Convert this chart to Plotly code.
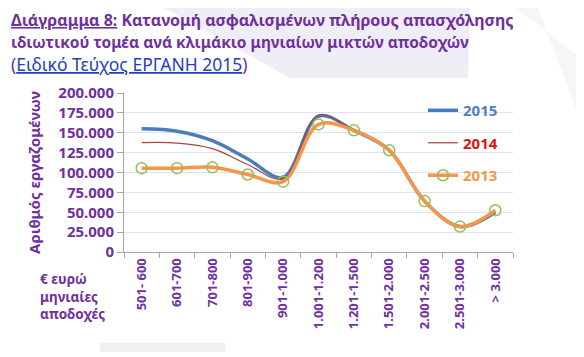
import plotly.graph_objects as go

categories = ["501- 600", "601-700", "701-800", "801-900", "901-1.000", "1.001-1.200",
              "1.201-1.500", "1.501-2.000", "2.001-2.500", "2.501-3.000", "> 3.000"]
v2015 = [155000, 152000, 140000, 117000, 94000, 171000, 153000, 128000, 64000, 32000, 50000]
v2014 = [137500, 137000, 130000, 110000, 92000, 172000, 153000, 128000, 64000, 32000, 51000]
v2013 = [105500, 105500, 106500, 97500, 88500, 160500, 153000, 128000, 64000, 32000, 52500]
ytick_vals = [0, 25000, 50000, 75000, 100000, 125000, 150000, 175000, 200000]

PURPLE = "#7030A0"
FONT = "Noto Sans"
OFF = 8  # page body margin
PX0, PX1, PY0, PY1 = 124, 513, 93, 252  # plot area in page pixels
L, T = PX0 - OFF, PY0 - OFF
PW, PH = PX1 - PX0, PY1 - PY0
R, B = 584 - L - PW, 357 - T - PH


def px(x):
    return (x - PX0) / PW


def py(y):
    return (PY1 - y) / PH


fig = go.Figure()
fig.add_trace(go.Scatter(x=categories, y=v2015, mode="lines", line=dict(color="#4A7EBB", width=3.5, shape="spline"),
                         name="<span style='color:#4F81BD'>2015</span>", legendgroup="a"))
fig.add_trace(go.Scatter(x=categories, y=v2014, mode="lines", line=dict(color="#A84340", width=1.2, shape="spline"),
                         name="<span style='color:#E01010'>2014</span>", legendgroup="b"))
fig.add_trace(go.Scatter(x=categories, y=v2013, mode="lines+markers", line=dict(color="#F79646", width=3.5, shape="spline"),
                         marker=dict(symbol="circle-open", size=11, color="#9BBB59", line=dict(width=1.5, color="#9BBB59")),
                         name="<span style='color:#F79646'>2013</span>", legendgroup="c"))

fig.update_layout(
    width=584, height=357,
    margin=dict(l=L, r=R, t=T, b=B, autoexpand=False),
    paper_bgcolor="white", plot_bgcolor="rgba(0,0,0,0)",
    separators=",.",
    font=dict(family=FONT, color=PURPLE),
    showlegend=True,
    legend=dict(x=px(423), xanchor="left", y=py(94), yanchor="top", tracegroupgap=10,
                font=dict(size=15, family=FONT, weight="bold"), bgcolor="rgba(0,0,0,0)"),
    xaxis=dict(type="category", tickson="boundaries", ticks="outside", ticklen=5, tickcolor="#A6A6A6",
               showline=True, linecolor="#A6A6A6", showgrid=False, tickangle=-90,
               tickfont=dict(size=13, color=PURPLE, family=FONT, weight="bold"),
               range=[-0.5, 10.5], automargin=False),
    yaxis=dict(range=[0, 200000], tickvals=ytick_vals, tickformat=",d", ticks="outside", ticklen=6,
               tickcolor="#A6A6A6", showline=True, linecolor="#A6A6A6", gridcolor="#DCE4EE",
               tickfont=dict(size=15, color=PURPLE, family=FONT, weight="bold"),
               title=dict(text="Αριθμός εργαζομένων", font=dict(size=15, color=PURPLE, family=FONT, weight="bold"), standoff=14),
               zeroline=False, automargin=False),
)

# faint background watermark shapes
bg = "rgba(226,224,240,0.55)"
fig.add_shape(type="path", xref="paper", yref="paper", layer="below", line=dict(width=0), fillcolor=bg,
              path=f"M {px(150)} {py(0)} L {px(470)} {py(0)} L {px(468)} {py(78)} L {px(290)} {py(78)} Z")
fig.add_shape(type="path", xref="paper", yref="paper", layer="below", line=dict(width=0), fillcolor="rgba(238,238,243,0.5)",
              path=f"M {px(505)} {py(0)} L {px(535)} {py(0)} L {px(584)} {py(130)} L {px(584)} {py(60)} Z")
fig.add_shape(type="rect", xref="paper", yref="paper", layer="below", line=dict(width=0), fillcolor="rgba(232,232,240,0.7)",
              x0=px(0), x1=px(8), y0=py(335), y1=py(255))
fig.add_shape(type="rect", xref="paper", yref="paper", layer="below", line=dict(width=0), fillcolor="rgba(232,232,240,0.7)",
              x0=px(100), x1=px(225), y0=py(352), y1=py(343))

fig.add_annotation(xref="paper", yref="paper", x=px(38), y=py(268), xanchor="left", yanchor="top",
                   text="<b>€ ευρώ<br>μηνιαίες<br>αποδοχές</b>", showarrow=False, align="left",
                   font=dict(size=13.5, color=PURPLE, family=FONT))

title_lines = [
    ("<b><u>Διάγραμμα 8:</u> Κατανομή ασφαλισμένων πλήρους απασχόλησης</b>", 16),
    ("<b>ιδιωτικού τομέα ανά κλιμάκιο μηνιαίων μικτών αποδοχών</b>", 15.5),
    ("(<span style='color:#1F3FBF'><u>Ειδικό Τεύχος ΕΡΓΑΝΗ 2015</u></span>)", 17.5),
]
for i, (t, s) in enumerate(title_lines):
    fig.add_annotation(xref="paper", yref="paper", x=px(9), y=py(20 + 22 * i),
                       xanchor="left", yanchor="middle", text=t, showarrow=False, align="left",
                       font=dict(size=s, color=PURPLE, family=FONT))

fig.write_html("out.html")
